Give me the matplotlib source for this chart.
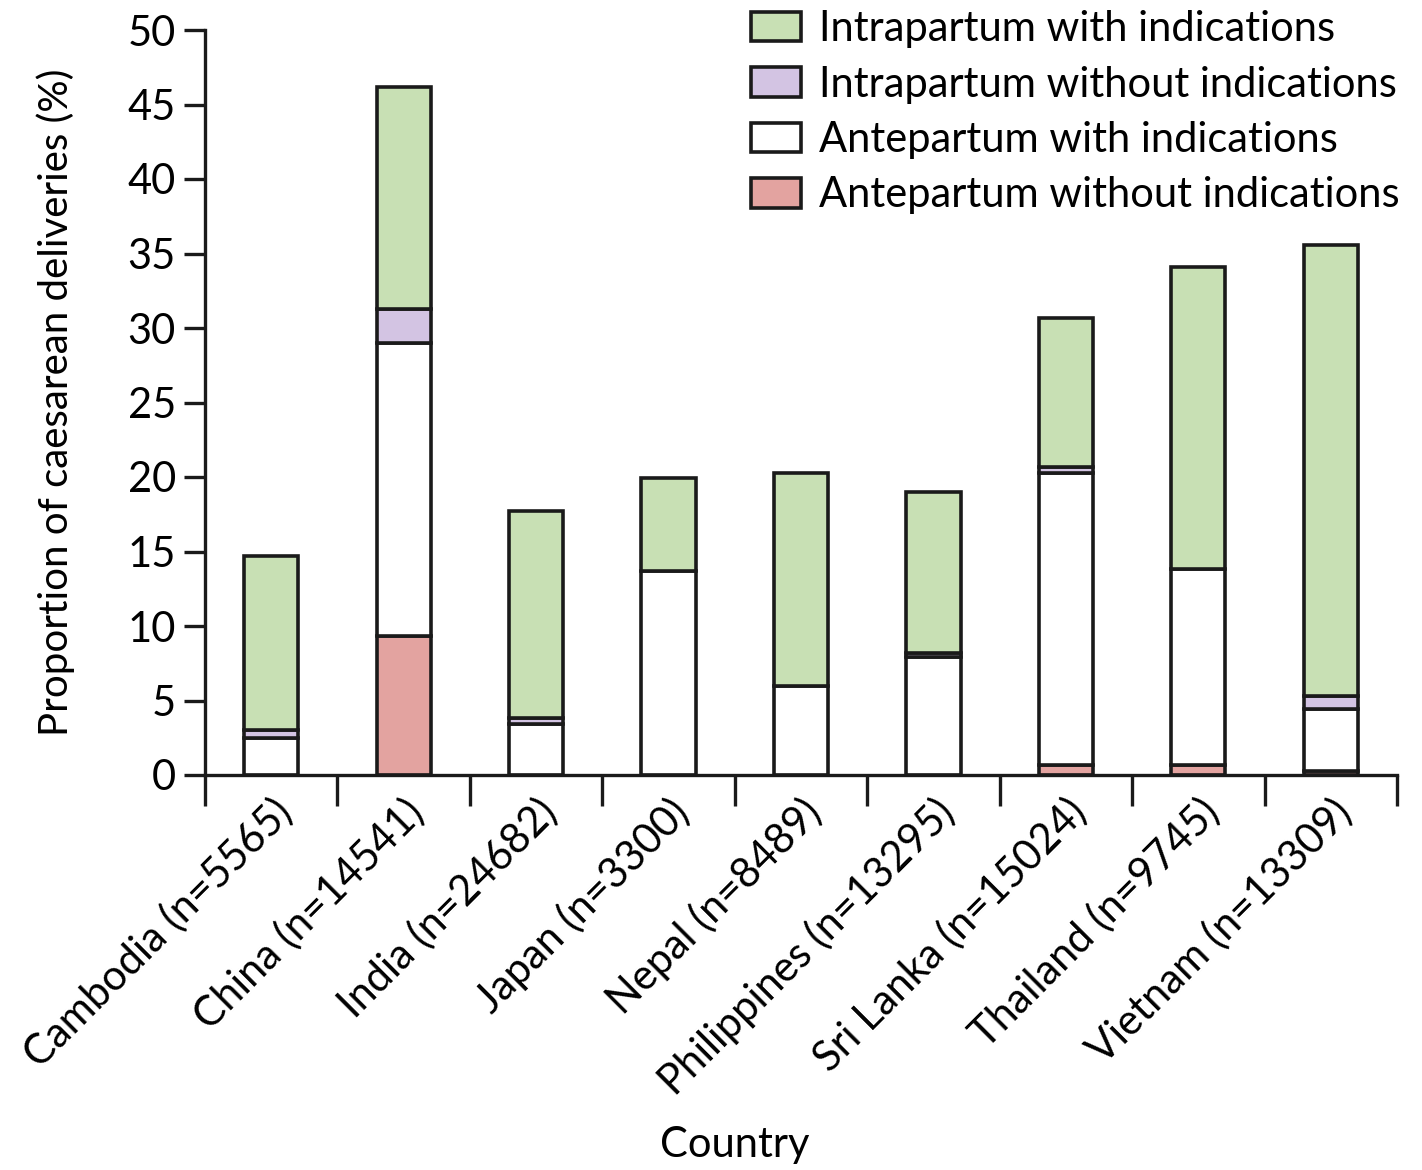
import numpy as np
import matplotlib
matplotlib.use("Agg")
import matplotlib.pyplot as plt
from matplotlib.patches import Patch

countries = ["Cambodia (n=5565)", "China (n=14541)", "India (n=24682)",
             "Japan (n=3300)", "Nepal (n=8489)", "Philippines (n=13295)",
             "Sri Lanka (n=15024)", "Thailand (n=9745)", "Vietnam (n=13309)"]

ante_without = [0, 9.3, 0, 0, 0, 0, 0.7, 0.7, 0.3]
ante_with = [2.5, 19.7, 3.4, 13.7, 6.0, 7.9, 19.6, 13.1, 4.1]
intra_without = [0.5, 2.3, 0.4, 0, 0, 0.3, 0.4, 0, 0.9]
intra_with = [11.7, 14.9, 13.9, 6.2, 14.3, 10.8, 10.0, 20.3, 30.3]

series = [
    ("Antepartum without indications", ante_without, "#e3a3a0"),
    ("Antepartum with indications", ante_with, "#ffffff"),
    ("Intrapartum without indications", intra_without, "#d3c4e3"),
    ("Intrapartum with indications", intra_with, "#c8e0b4"),
]

plt.rcParams['font.family'] = ['Lato', 'DejaVu Sans']
edge = "#1a1a1a"
fs = 30

fig = plt.figure(figsize=(14.22, 11.7), dpi=100)
ax = fig.add_axes([205 / 1422, 1 - 775 / 1170, 1192 / 1422, 745 / 1170])

x = np.arange(len(countries))
bottom = np.zeros(len(countries))
for name, vals, col in series:
    vals = np.array(vals, dtype=float)
    mask = vals > 0
    ax.bar(x[mask], vals[mask], bottom=bottom[mask], width=0.41, color=col,
           edgecolor=edge, linewidth=2.6, zorder=2)
    bottom += vals

ax.set_xlim(-0.5, len(countries) - 0.5)
ax.set_ylim(0, 50)
ax.set_yticks(range(0, 51, 5))
ax.set_xticks(np.arange(len(countries) + 1) - 0.5)
ax.set_xticklabels([])
ax.set_xticks(x, minor=True)
ax.set_xticklabels(countries, minor=True, rotation=45, ha="right",
                   rotation_mode="anchor", fontsize=fs)
ax.tick_params(axis="x", which="minor", length=0, pad=12)
ax.tick_params(axis="x", which="major", direction="out", length=22, width=2.4,
               color=edge)
ax.tick_params(axis="y", direction="out", length=15, width=2.4, labelsize=fs,
               pad=6, color=edge)

for s in ["top", "right"]:
    ax.spines[s].set_visible(False)
for s in ["left", "bottom"]:
    ax.spines[s].set_linewidth(2.4)
    ax.spines[s].set_color(edge)

ax.set_ylabel("Proportion of caesarean deliveries (%)", fontsize=29, labelpad=38)
fig.text(735 / 1422, 1 - 1145 / 1170, "Country", fontsize=fs,
         ha="center", va="center")

handles = [Patch(facecolor=col, edgecolor=edge, linewidth=2.6, label=name)
           for name, vals, col in series[::-1]]
fig.legend(handles=handles, loc="upper right",
           bbox_to_anchor=(1400 / 1422, 1 - 10 / 1170),
           frameon=False, fontsize=fs, handlelength=1.2, handleheight=0.72,
           labelspacing=0.42, handletextpad=0.45, borderaxespad=0, borderpad=0)

fig.savefig("out.png", dpi=100)
